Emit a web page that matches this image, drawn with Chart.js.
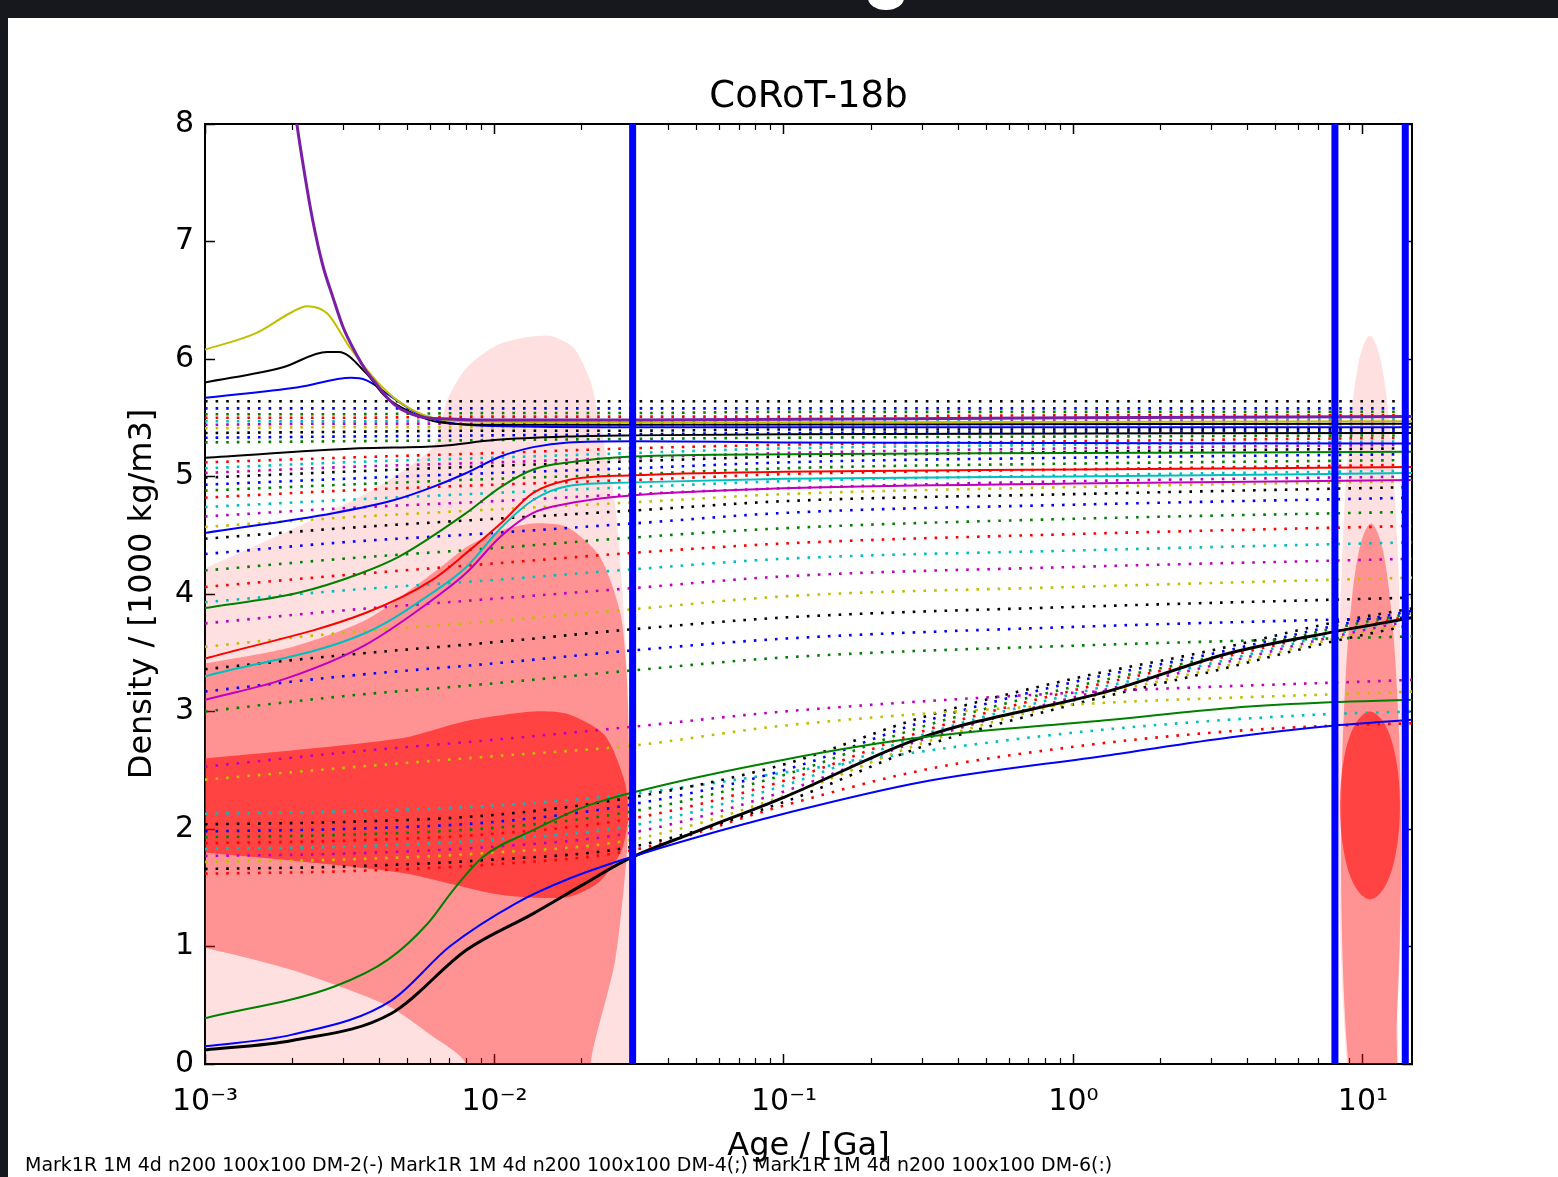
<!DOCTYPE html>
<html>
<head>
<meta charset="utf-8">
<title>CoRoT-18b</title>
<script src="https://cdn.jsdelivr.net/npm/chart.js@4.4.1/dist/chart.umd.min.js"></script>
<style>
  html, body { margin: 0; padding: 0; }
  body { width: 1558px; height: 1177px; overflow: hidden; background: #16181d; position: relative; }
  #sheet { position: absolute; left: 8px; top: 18px; right: 0; bottom: 0; background: #fff; }
  #blob { position: absolute; left: 868px; top: -14px; width: 36px; height: 24px; border-radius: 50%; background: #fff; }
  #wrap { position: absolute; left: 0; top: 0; width: 1558px; height: 1177px; }
</style>
</head>
<body>
<div id="sheet"></div>
<div id="blob"></div>
<div id="wrap"><canvas id="densityChart" width="1558" height="1177"></canvas></div>
<script>
// axes
var xMin = 0.001;
var xMax = 14.77;
var xMajorTicks = [0.001, 0.01, 0.1, 1, 10];
var xTickLabels = ['10⁻³', '10⁻²', '10⁻¹', '10⁰', '10¹'];
var xMinorTicks = [0.002, 0.003, 0.004, 0.005, 0.006, 0.007, 0.008, 0.009,
                   0.02, 0.03, 0.04, 0.05, 0.06, 0.07, 0.08, 0.09,
                   0.2, 0.3, 0.4, 0.5, 0.6, 0.7, 0.8, 0.9,
                   2, 3, 4, 5, 6, 7, 8, 9];

// age limits (blue vertical lines)
var blueLineAges = [0.03, 8, 14];

// solid model tracks, [age Ga, density 1000 kg/m3]
var purpleSteep = [[0.0019, 8.8], [0.00205, 8.1], [0.0022, 7.6], [0.00236, 7.17], [0.00255, 6.8], [0.00277, 6.52], [0.003, 6.27], [0.00335, 6.03], [0.0036, 5.9], [0.00393, 5.78], [0.0043, 5.66], [0.0047, 5.58], [0.0052, 5.53], [0.0058, 5.5], [0.007, 5.49], [0.01, 5.48], [0.03, 5.48], [1, 5.5], [15, 5.51]];
var yellowPeak = [[0.001, 6.08], [0.0015, 6.22], [0.002, 6.4], [0.00225, 6.45], [0.00264, 6.39], [0.00316, 6.1], [0.0041, 5.76], [0.005, 5.59], [0.0061, 5.5], [0.008, 5.47], [0.03, 5.46], [15, 5.47]];
var blackPeak = [[0.001, 5.8], [0.00186, 5.93], [0.00264, 6.06], [0.0029, 6.06], [0.0036, 5.88], [0.0042, 5.68], [0.0052, 5.54], [0.0065, 5.46], [0.01, 5.44], [0.03, 5.44], [15, 5.45]];
var bluePeak = [[0.001, 5.67], [0.0021, 5.76], [0.0032, 5.84], [0.0036, 5.82], [0.0044, 5.68], [0.0054, 5.54], [0.0069, 5.46], [0.01, 5.43], [0.03, 5.42], [15, 5.42]];
var blackFlat = [[0.001, 5.16], [0.0034, 5.24], [0.0065, 5.26], [0.01, 5.31], [0.018, 5.34], [0.03, 5.35], [0.1, 5.36], [15, 5.37]];
var blueRise = [[0.001, 4.52], [0.0028, 4.69], [0.0045, 4.8], [0.0061, 4.91], [0.008, 5.03], [0.0105, 5.17], [0.0136, 5.25], [0.018, 5.29], [0.03, 5.3], [0.1, 5.29], [15, 5.28]];
var greenRise = [[0.001, 3.88], [0.0021, 4.01], [0.0034, 4.17], [0.0047, 4.32], [0.008, 4.69], [0.0105, 4.91], [0.0136, 5.06], [0.018, 5.12], [0.03, 5.17], [0.1, 5.19], [1, 5.2], [15, 5.21]];
var redRise = [[0.001, 3.45], [0.0036, 3.84], [0.0061, 4.12], [0.008, 4.35], [0.0105, 4.6], [0.0136, 4.86], [0.018, 4.97], [0.03, 5.01], [0.1, 5.04], [1, 5.06], [15, 5.08]];
var cyanRise = [[0.001, 3.3], [0.0036, 3.67], [0.0061, 4.01], [0.008, 4.23], [0.0105, 4.56], [0.0136, 4.8], [0.018, 4.92], [0.03, 4.95], [0.1, 4.98], [1, 5.0], [15, 5.03]];
var magentaRise = [[0.001, 3.1], [0.0019, 3.28], [0.0036, 3.57], [0.0061, 3.95], [0.008, 4.18], [0.0105, 4.49], [0.0136, 4.69], [0.018, 4.77], [0.03, 4.84], [0.1, 4.9], [1, 4.94], [15, 4.97]];
var greenLow = [[0.001, 0.39], [0.0028, 0.66], [0.0043, 0.89], [0.0059, 1.2], [0.0072, 1.48], [0.0091, 1.76], [0.0136, 1.99], [0.02, 2.18], [0.03, 2.31], [0.1, 2.59], [0.3, 2.78], [1.35, 2.93], [3.5, 3.03], [8, 3.08], [15, 3.1]];
var blueLow = [[0.001, 0.15], [0.002, 0.25], [0.0044, 0.54], [0.007, 1.0], [0.0119, 1.37], [0.0178, 1.57], [0.0287, 1.75], [0.05, 1.93], [0.1, 2.13], [0.3, 2.4], [1.35, 2.63], [3.5, 2.78], [8, 2.88], [15, 2.93]];
var blackLow = [[0.001, 0.12], [0.002, 0.2], [0.0044, 0.43], [0.008, 0.97], [0.0136, 1.28], [0.02, 1.52], [0.0287, 1.74], [0.05, 1.98], [0.1, 2.27], [0.3, 2.78], [1.35, 3.18], [3.5, 3.5], [8, 3.68], [15, 3.8]];

// dotted model tracks, upper family
var dotAges = [0.001, 0.003, 0.01, 0.03, 0.1, 1, 15];
var upperDotColors = ['k', 'b', 'g', 'r', 'c', 'm', 'y', 'k', 'b', 'g', 'r', 'c', 'm', 'k', 'b', 'g',
                      'r', 'c', 'm', 'y', 'k', 'b', 'g', 'r', 'c', 'm', 'y', 'k', 'b', 'g', 'm', 'y'];
var upperDotValues = [
  [5.64, 5.64, 5.64, 5.64, 5.64, 5.64, 5.64],
  [5.58, 5.58, 5.58, 5.58, 5.58, 5.58, 5.58],
  [5.53, 5.53, 5.54, 5.54, 5.55, 5.55, 5.55],
  [5.50, 5.50, 5.51, 5.51, 5.51, 5.52, 5.52],
  [5.47, 5.47, 5.48, 5.48, 5.48, 5.49, 5.49],
  [5.44, 5.45, 5.45, 5.46, 5.46, 5.47, 5.47],
  [5.41, 5.42, 5.42, 5.43, 5.43, 5.44, 5.44],
  [5.37, 5.38, 5.39, 5.39, 5.40, 5.40, 5.41],
  [5.33, 5.34, 5.35, 5.36, 5.37, 5.38, 5.39],
  [5.29, 5.30, 5.31, 5.32, 5.33, 5.34, 5.35],
  [5.12, 5.16, 5.20, 5.24, 5.27, 5.30, 5.33],
  [5.07, 5.12, 5.16, 5.20, 5.24, 5.27, 5.30],
  [5.03, 5.08, 5.12, 5.16, 5.20, 5.24, 5.27],
  [4.99, 5.04, 5.09, 5.13, 5.17, 5.21, 5.24],
  [4.93, 4.98, 5.03, 5.07, 5.12, 5.16, 5.19],
  [4.88, 4.93, 4.98, 5.02, 5.07, 5.11, 5.14],
  [4.82, 4.88, 4.93, 4.97, 5.02, 5.06, 5.10],
  [4.74, 4.80, 4.86, 4.91, 4.96, 5.01, 5.05],
  [4.66, 4.73, 4.79, 4.85, 4.90, 4.96, 5.00],
  [4.57, 4.65, 4.72, 4.78, 4.85, 4.91, 4.96],
  [4.47, 4.56, 4.64, 4.71, 4.79, 4.85, 4.91],
  [4.34, 4.44, 4.52, 4.60, 4.69, 4.76, 4.82],
  [4.20, 4.30, 4.39, 4.48, 4.56, 4.64, 4.70],
  [4.06, 4.16, 4.26, 4.35, 4.43, 4.51, 4.58],
  [3.93, 4.03, 4.12, 4.21, 4.30, 4.37, 4.44],
  [3.75, 3.86, 3.96, 4.05, 4.15, 4.23, 4.30],
  [3.55, 3.67, 3.77, 3.87, 3.98, 4.06, 4.14],
  [3.36, 3.48, 3.59, 3.70, 3.80, 3.89, 3.97],
  [3.17, 3.30, 3.41, 3.52, 3.62, 3.72, 3.80],
  [3.00, 3.13, 3.24, 3.35, 3.46, 3.56, 3.64],
  [2.53, 2.65, 2.76, 2.87, 3.00, 3.16, 3.27],
  [2.42, 2.52, 2.62, 2.71, 2.88, 3.06, 3.17]
];

// dotted model tracks, lower family
var lowerDotAges = [0.001, 0.003, 0.01, 0.03, 0.1, 0.3, 1, 3, 8, 15];
var lowerDotColors = ['k', 'b', 'g', 'r', 'c', 'm', 'y', 'k', 'c', 'r'];
var lowerDotValues = [
  [2.04, 2.06, 2.12, 2.27, 2.55, 2.95, 3.28, 3.52, 3.76, 3.88],
  [1.98, 2.00, 2.06, 2.21, 2.50, 2.91, 3.25, 3.49, 3.73, 3.86],
  [1.93, 1.95, 2.01, 2.15, 2.46, 2.87, 3.21, 3.46, 3.71, 3.84],
  [1.88, 1.90, 1.96, 2.09, 2.41, 2.83, 3.18, 3.44, 3.68, 3.82],
  [1.83, 1.85, 1.91, 2.03, 2.37, 2.80, 3.15, 3.41, 3.66, 3.80],
  [1.77, 1.79, 1.85, 1.97, 2.32, 2.76, 3.12, 3.39, 3.64, 3.78],
  [1.72, 1.74, 1.80, 1.91, 2.28, 2.73, 3.09, 3.36, 3.62, 3.76],
  [1.66, 1.68, 1.74, 1.85, 2.23, 2.70, 3.06, 3.34, 3.60, 3.74],
  [2.13, 2.15, 2.20, 2.30, 2.48, 2.66, 2.82, 2.92, 2.98, 3.00],
  [1.62, 1.64, 1.70, 1.82, 2.20, 2.50, 2.70, 2.82, 2.88, 2.90]
];

// shaded density regions (outline points)
var leftOuter = [[0.0009, -0.4], [0.0009, 4.2], [0.001, 4.22], [0.00343, 4.83], [0.00613, 5.25], [0.00686, 5.65], [0.00804, 5.93], [0.01045, 6.13], [0.0152, 6.2], [0.0187, 6.1], [0.0214, 5.82], [0.0226, 5.57], [0.026, 4.8], [0.0285, 3.5], [0.0294, 2.0], [0.0295, 0.1], [0.0295, -0.4], [0.0009, -0.4]];
var leftMiddle = [[0.0009, 3.4], [0.001, 3.41], [0.002, 3.55], [0.0036, 3.78], [0.0063, 4.2], [0.008, 4.4], [0.0105, 4.54], [0.0136, 4.6], [0.0178, 4.57], [0.0231, 4.32], [0.0272, 3.84], [0.0287, 3.27], [0.0292, 2.5], [0.0287, 1.82], [0.0261, 0.88], [0.0216, 0.05], [0.0214, -0.3], [0.008, -0.3], [0.0079, 0.02], [0.006, 0.25], [0.00425, 0.5], [0.002, 0.8], [0.001, 0.99], [0.0009, 1.0], [0.0009, 3.4]];
var leftCore = [[0.0009, 2.6], [0.001, 2.6], [0.0047, 2.77], [0.008, 2.92], [0.0136, 3.0], [0.0178, 2.98], [0.024, 2.8], [0.0282, 2.4], [0.0289, 2.1], [0.0275, 1.82], [0.023, 1.55], [0.0178, 1.42], [0.0105, 1.44], [0.0047, 1.63], [0.001, 1.8], [0.0009, 1.8], [0.0009, 2.6]];
var rightOuter = [[8.97, -0.33], [8.48, 0.65], [8.23, 1.86], [8.23, 3.14], [8.48, 4.35], [8.97, 5.33], [9.68, 5.98], [10.57, 6.2], [11.54, 5.98], [12.46, 5.33], [13.18, 4.35], [13.58, 3.14], [13.58, 1.86], [13.18, 0.65], [12.46, -0.33], [8.97, -0.33]];
var rightMiddle = [[9.14, -0.34], [8.67, 0.4], [8.43, 1.31], [8.43, 2.29], [8.67, 3.2], [9.14, 3.94], [9.82, 4.43], [10.66, 4.6], [11.57, 4.43], [12.43, 3.94], [13.1, 3.2], [13.5, 2.29], [13.5, 1.31], [13.1, 0.4], [12.43, -0.34], [9.14, -0.34]];
var rightCore = [[9.39, 1.51], [10.57, 1.4], [11.91, 1.51], [13.0, 1.8], [13.42, 2.2], [13.0, 2.6], [11.91, 2.89], [10.57, 3.0], [9.39, 2.89], [8.6, 2.6], [8.33, 2.2], [8.6, 1.8], [9.39, 1.51], [10.57, 1.4], [11.91, 1.51]];

var colorCodes = { b: '#0000ff', g: '#008000', r: '#ff0000', c: '#00bfbf', m: '#bf00bf', y: '#bfbf00', k: '#000000' };

function pairs(list) {
    return list.map(function (p) { return { x: p[0], y: p[1] }; });
}

var datasets = [];

// limits on top of everything
blueLineAges.forEach(function (a) {
    datasets.push({ data: [{ x: a, y: 0 }, { x: a, y: 8 }], borderColor: '#0000ff', borderWidth: 7, order: 0 });
});

// solid tracks
var solidTracks = [
    [purpleSteep, '#7a1ea6', 3],
    [yellowPeak, colorCodes.y, 2],
    [blackPeak, colorCodes.k, 2],
    [bluePeak, colorCodes.b, 2],
    [blackFlat, colorCodes.k, 2],
    [blueRise, colorCodes.b, 2],
    [greenRise, colorCodes.g, 2],
    [redRise, colorCodes.r, 2],
    [cyanRise, colorCodes.c, 2],
    [magentaRise, colorCodes.m, 2],
    [greenLow, colorCodes.g, 2],
    [blueLow, colorCodes.b, 2],
    [blackLow, colorCodes.k, 3]
];
solidTracks.forEach(function (t) {
    datasets.push({ data: pairs(t[0]), borderColor: t[1], borderWidth: t[2], cubicInterpolationMode: 'monotone', order: 1 });
});

// dotted tracks
function addDots(ages, colors, values) {
    values.forEach(function (row, i) {
        datasets.push({
            data: row.map(function (v, j) { return { x: ages[j], y: v }; }),
            borderColor: colorCodes[colors[i]],
            borderWidth: 2.6,
            borderDash: [2.6, 8],
            borderCapStyle: 'butt',
            cubicInterpolationMode: 'monotone',
            order: 2
        });
    });
}
addDots(dotAges, upperDotColors, upperDotValues);
addDots(lowerDotAges, lowerDotColors, lowerDotValues);

// shaded regions
var shades = [
    [leftOuter, 'rgba(255,0,0,0.12)', 7, 0.25],
    [leftMiddle, 'rgba(255,0,0,0.35)', 6, 0.25],
    [leftCore, 'rgba(255,0,0,0.55)', 5, 0.25],
    [rightOuter, 'rgba(255,0,0,0.12)', 7, 0.35],
    [rightMiddle, 'rgba(255,0,0,0.35)', 6, 0.35],
    [rightCore, 'rgba(255,0,0,0.55)', 5, 0.35]
];
shades.forEach(function (s) {
    datasets.push({ data: pairs(s[0]), fill: 'shape', backgroundColor: s[1], borderColor: 'rgba(0,0,0,0)', borderWidth: 0, tension: s[3], order: s[2] });
});

function majorTicks(scale) { scale.ticks = xMajorTicks.map(function (v) { return { value: v }; }); }
function minorTicks(scale) { scale.ticks = xMinorTicks.map(function (v) { return { value: v }; }); }

Chart.defaults.font.family = 'DejaVu Sans';
Chart.defaults.color = '#000';

var ctx = document.getElementById('densityChart').getContext('2d');
var densityChart = new Chart(ctx, {
    type: 'line',
    data: { datasets: datasets },
    options: {
        responsive: false,
        animation: false,
        layout: { padding: { left: 25, right: 146, top: 75, bottom: 0 } },
        elements: { point: { radius: 0 }, line: { borderWidth: 2 } },
        plugins: {
            legend: { display: false },
            tooltip: { enabled: false },
            title: {
                display: true, text: 'CoRoT-18b', color: '#000', fullSize: false,
                font: { size: 37, weight: 'normal', lineHeight: 1.2 },
                padding: { top: 0, bottom: 4.6 }
            },
            subtitle: {
                display: true, position: 'bottom', align: 'start', fullSize: true, color: '#000',
                text: 'Mark1R 1M 4d n200 100x100 DM-2(-) Mark1R 1M 4d n200 100x100 DM-4(;) Mark1R 1M 4d n200 100x100 DM-6(:)',
                font: { size: 19, weight: 'normal', lineHeight: 1.2 },
                padding: 0
            }
        },
        scales: {
            x: {
                type: 'logarithmic', position: 'bottom', min: xMin, max: xMax, weight: 1,
                afterBuildTicks: majorTicks,
                afterFit: function (s) { s.height = 90.2; },
                ticks: {
                    autoSkip: false, maxRotation: 0, padding: 30, font: { size: 30 },
                    callback: function (v) { var i = xMajorTicks.indexOf(v); return i < 0 ? '' : xTickLabels[i]; }
                },
                grid: { drawOnChartArea: false, tickLength: -10, tickColor: '#000', tickWidth: 1.5 },
                border: { display: true, color: '#000', width: 2 },
                title: { display: true, text: 'Age / [Ga]', font: { size: 32, lineHeight: 0.45 }, padding: 0 }
            },
            xMinor: {
                type: 'logarithmic', position: 'bottom', min: xMin, max: xMax, weight: 0,
                afterBuildTicks: minorTicks,
                afterFit: function (s) { s.height = 0; },
                ticks: { display: false, autoSkip: false },
                grid: { drawOnChartArea: false, tickLength: -6, tickColor: '#000', tickWidth: 1.2 },
                border: { display: false }
            },
            xTop: {
                type: 'logarithmic', position: 'top', min: xMin, max: xMax, weight: 1,
                afterBuildTicks: majorTicks,
                afterFit: function (s) { s.height = 0; },
                ticks: { display: false, autoSkip: false },
                grid: { drawOnChartArea: false, tickLength: -10, tickColor: '#000', tickWidth: 1.5 },
                border: { display: true, color: '#000', width: 2 }
            },
            xTopMinor: {
                type: 'logarithmic', position: 'top', min: xMin, max: xMax, weight: 0,
                afterBuildTicks: minorTicks,
                afterFit: function (s) { s.height = 0; },
                ticks: { display: false, autoSkip: false },
                grid: { drawOnChartArea: false, tickLength: -6, tickColor: '#000', tickWidth: 1.2 },
                border: { display: false }
            },
            y: {
                position: 'left', min: 0, max: 8,
                afterFit: function (s) { s.width = 180; },
                ticks: { stepSize: 1, padding: 21, font: { size: 30 } },
                grid: { drawOnChartArea: false, tickLength: -10, tickColor: '#000', tickWidth: 1.5 },
                border: { display: true, color: '#000', width: 2 },
                title: { display: true, text: 'Density / [1000 kg/m3]', font: { size: 32, lineHeight: 1.2 }, padding: { top: 98.8, bottom: 0 } }
            },
            yRight: {
                position: 'right', min: 0, max: 8,
                afterFit: function (s) { s.width = 0; },
                ticks: { display: false, stepSize: 1 },
                grid: { drawOnChartArea: false, tickLength: -10, tickColor: '#000', tickWidth: 1.5 },
                border: { display: true, color: '#000', width: 2 }
            }
        }
    }
});
</script>
</body>
</html>
